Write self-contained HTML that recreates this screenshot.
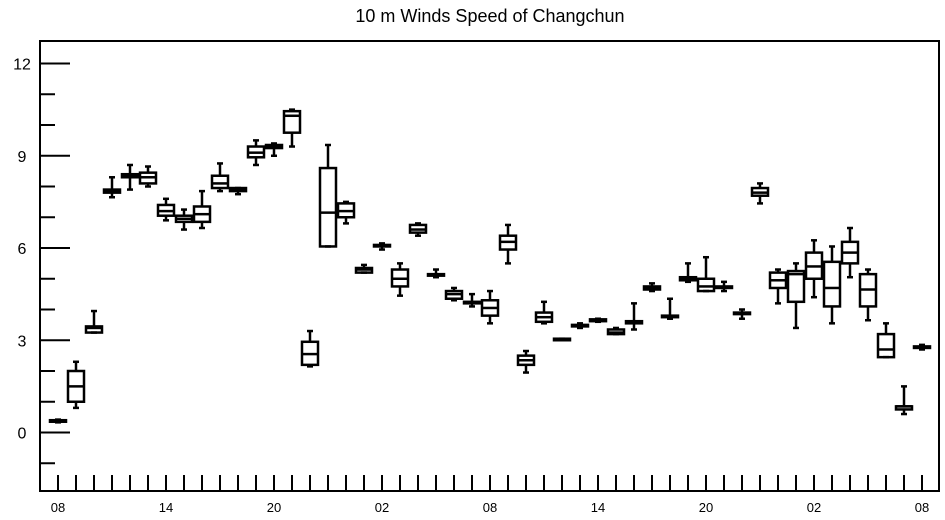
<!DOCTYPE html>
<html><head><meta charset="utf-8"><style>
body{margin:0;background:#fff;}
svg{display:block;font-family:"Liberation Sans",sans-serif;}
</style></head><body>
<svg id="chart" width="945" height="520" xmlns="http://www.w3.org/2000/svg">
<text x="490" y="22" text-anchor="middle" font-size="18">10 m Winds Speed of Changchun</text>
<rect x="40" y="41" width="899" height="450" fill="none" stroke="#000" stroke-width="2"/>
<g id="marks"></g>
</svg>
<script>
const hours=["08","09","10","11","12","13","14","15","16","17","18","19","20","21","22","23","00","01","02","03","04","05","06","07","08","09","10","11","12","13","14","15","16","17","18","19","20","21","22","23","00","01","02","03","04","05","06","07","08"];
const whiskLo=[0.33,0.8,3.25,7.65,7.9,8.0,6.9,6.6,6.65,7.85,7.75,8.7,9.0,9.3,2.15,6.05,6.8,5.2,5.95,4.45,6.4,5.05,4.3,4.1,3.55,5.5,1.95,3.55,3.0,3.4,3.6,3.2,3.35,4.6,3.7,4.9,4.6,4.6,3.7,7.45,4.2,3.4,4.4,3.55,5.05,3.65,2.45,0.6,2.7];
const q1=[0.35,1.0,3.25,7.8,8.3,8.1,7.05,6.85,6.85,7.95,7.85,8.95,9.25,9.75,2.2,6.05,7.0,5.2,6.05,4.75,6.5,5.1,4.35,4.2,3.8,5.95,2.2,3.6,3.0,3.45,3.62,3.2,3.55,4.65,3.75,4.95,4.6,4.7,3.85,7.7,4.7,4.25,5.0,4.1,5.5,4.1,2.45,0.75,2.75];
const med=[0.38,1.5,3.4,7.85,8.35,8.3,7.2,6.95,7.1,8.1,7.9,9.1,9.3,10.3,2.55,7.15,7.2,5.3,6.08,5.0,6.6,5.12,4.5,4.22,4.05,6.2,2.35,3.75,3.02,3.48,3.65,3.25,3.58,4.7,3.78,5.0,4.75,4.72,3.88,7.8,4.95,5.15,5.4,4.7,5.85,4.65,2.7,0.85,2.78];
const q3=[0.4,2.0,3.45,7.9,8.4,8.45,7.4,7.05,7.35,8.35,7.95,9.3,9.35,10.45,2.95,8.6,7.45,5.35,6.1,5.3,6.75,5.15,4.6,4.25,4.3,6.4,2.5,3.9,3.05,3.5,3.68,3.35,3.62,4.75,3.8,5.05,5.0,4.75,3.9,7.95,5.2,5.25,5.85,5.55,6.2,5.15,3.2,0.85,2.8];
const whiskHi=[0.42,2.3,3.95,8.3,8.7,8.65,7.6,7.25,7.85,8.75,7.95,9.5,9.4,10.5,3.3,9.35,7.5,5.45,6.15,5.5,6.8,5.3,4.7,4.5,4.6,6.75,2.65,4.25,3.05,3.55,3.7,3.4,4.2,4.85,4.35,5.5,5.7,4.9,4.0,8.1,5.3,5.5,6.25,6.05,6.65,5.3,3.55,1.5,2.85];
const yTicks=[0,3,6,9,12];
const NS="http://www.w3.org/2000/svg";
const g=document.getElementById("marks");
const X0=58,DX=18,Y0=432.5,PU=30.75;
const xs=i=>X0+i*DX;
const ys=v=>Y0-v*PU;
function el(t,a){const e=document.createElementNS(NS,t);for(const k in a)e.setAttribute(k,a[k]);g.appendChild(e);return e;}
// y axis ticks
for(let v=-1;v<=12;v++){
  const major=yTicks.includes(v);
  const l=el("line",{x1:40,x2:major?70:55,y1:ys(v),y2:ys(v),stroke:"#000","stroke-width":2});
  
  
}
yTicks.forEach(v=>{
  const t=el("text",{x:22,y:ys(v)+6,"text-anchor":"middle","font-size":16});
  t.textContent=v;
  
  
});
// x ticks
hours.forEach((h,i)=>{
  const l=el("line",{x1:xs(i),x2:xs(i),y1:475,y2:491,stroke:"#000","stroke-width":2});
  
  
  if(i%6===0){
    const t=el("text",{x:xs(i),y:512,"text-anchor":"middle","font-size":13});
    t.textContent=h;
    
    
  }
});
// boxes
const W=8,C=3;
hours.forEach((h,i)=>{
  const x=xs(i);
  const st={stroke:"#000","stroke-width":2.5,fill:"none"};
  const w1=el("line",Object.assign({x1:x,x2:x,y1:ys(whiskLo[i]),y2:ys(q1[i])},st));
  
  
  const w2=el("line",Object.assign({x1:x,x2:x,y1:ys(q3[i]),y2:ys(whiskHi[i])},st));
  
  
  [whiskLo[i],whiskHi[i]].forEach(v=>{
    const c=el("line",Object.assign({x1:x-C,x2:x+C,y1:ys(v),y2:ys(v)},st));
    
    
  });
  const b=el("rect",Object.assign({x:x-W,y:ys(q3[i]),width:2*W,height:Math.max(ys(q1[i])-ys(q3[i]),1.5)},st));
  
  
  const m=el("line",Object.assign({x1:x-W,x2:x+W,y1:ys(med[i]),y2:ys(med[i])},st));
  
  
});
// zero line
const z=el("line",{x1:40,x2:70,y1:ys(0),y2:ys(0),stroke:"#000","stroke-width":2});


</script>
</body></html>
